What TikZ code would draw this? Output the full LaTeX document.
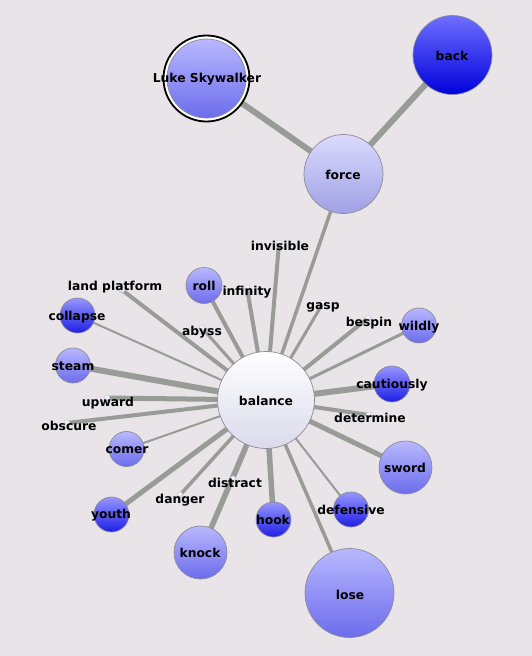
\documentclass[tikz,border=0pt]{standalone}
\usepackage{fontspec}
\setmainfont{DejaVu Sans}
\pgfdeclarelayer{bglayer}
\pgfdeclarelayer{edgelayer}
\pgfsetlayers{bglayer,edgelayer,main}
\definecolor{bgc}{RGB}{232,228,232}
\definecolor{edgec}{RGB}{152,155,150}
\definecolor{rimc}{RGB}{140,140,150}
\tikzset{
  bub/.style={circle, inner sep=0pt, minimum size=#1, draw=rimc, line width=0.7pt, shading=axis, shading angle=0},
  pale/.style={top color=white, bottom color={rgb,255:red,218;green,218;blue,236}},
  lilac/.style={top color={rgb,255:red,218;green,218;blue,255}, bottom color={rgb,255:red,160;green,160;blue,228}},
  mid/.style={top color={rgb,255:red,184;green,184;blue,255}, bottom color={rgb,255:red,108;green,108;blue,236}},
  deep/.style={top color={rgb,255:red,150;green,150;blue,255}, bottom color={rgb,255:red,30;green,30;blue,230}},
  navy/.style={top color={rgb,255:red,110;green,110;blue,255}, bottom color={rgb,255:red,0;green,0;blue,220}},
  tiny/.style={circle, inner sep=0pt, minimum size=6pt, draw=rimc!60, line width=0.4pt, top color=white, bottom color={rgb,255:red,200;green,200;blue,240}},
  lbl/.style={inner sep=0pt, font=\bfseries\fontsize{12.3}{14}\selectfont},
  ed/.style={draw=edgec, line width=#1}
}
\begin{document}
\begin{tikzpicture}[x=1pt,y=-1pt]
\begin{pgfonlayer}{bglayer}
\fill[bgc] (0,0) rectangle (532,656);
\end{pgfonlayer}
\useasboundingbox (0,0) rectangle (532,656);
% big nodes
\node[circle, minimum size=86pt, inner sep=0pt, draw=black, line width=1.8pt, fill=white] (lukering) at (206.5,78.5) {};
\node[bub=79pt, mid] (luke) at (206.5,78.5) {};
\node[bub=79pt, navy] (back) at (452.5,55) {};
\node[bub=79pt, lilac] (force) at (343.5,174) {};
\node[bub=97pt, pale] (balance) at (266,400) {};
\node[bub=89pt, mid] (lose) at (349.5,593) {};
\node[bub=53pt, mid] (sword) at (405.5,467.5) {};
\node[bub=53pt, mid] (knock) at (200.5,552.5) {};
\node[bub=35pt, deep] (hook) at (273.5,519.5) {};
\node[bub=35pt, deep] (defensive) at (351,509.5) {};
\node[bub=35pt, deep] (youth) at (111.5,514.5) {};
\node[bub=35pt, mid] (comer) at (126.5,449) {};
\node[bub=35pt, mid] (steam) at (73,365.5) {};
\node[bub=35pt, deep] (collapse) at (77.5,315.5) {};
\node[bub=36pt, mid] (roll) at (204,285.5) {};
\node[bub=35pt, mid] (wildly) at (419,325.5) {};
\node[bub=36pt, deep] (cautiously) at (392,384) {};
% tiny nodes
\node[tiny] (invisible) at (279,243) {};
\node[tiny] (infinity) at (247,288) {};
\node[tiny] (landplatform) at (122,290) {};
\node[tiny] (abyss) at (202,328) {};
\node[tiny] (gasp) at (323,303) {};
\node[tiny] (bespin) at (368,318) {};
\node[tiny] (upward) at (107,398) {};
\node[tiny] (obscure) at (67,423) {};
\node[tiny] (determine) at (369,415) {};
\node[tiny] (danger) at (180,495) {};
\node[tiny] (distract) at (233,479) {};
% edges
\begin{pgfonlayer}{edgelayer}
\draw[ed=6pt] (force.center) -- (luke.center);
\draw[ed=6pt] (force.center) -- (back.center);
\draw[ed=3.5pt] (force.center) -- (balance.center);
\draw[ed=4pt] (balance.center) -- (invisible.center);
\draw[ed=4pt] (balance.center) -- (infinity.center);
\draw[ed=4pt] (balance.center) -- (roll.center);
\draw[ed=3pt] (balance.center) -- (abyss.center);
\draw[ed=4pt] (balance.center) -- (landplatform.center);
\draw[ed=2pt] (balance.center) -- (collapse.center);
\draw[ed=6pt] (balance.center) -- (steam.center);
\draw[ed=5pt] (balance.center) -- (upward.center);
\draw[ed=4pt] (balance.center) -- (obscure.center);
\draw[ed=2pt] (balance.center) -- (comer.center);
\draw[ed=5pt] (balance.center) -- (youth.center);
\draw[ed=3.5pt] (balance.center) -- (danger.center);
\draw[ed=5.5pt] (balance.center) -- (knock.center);
\draw[ed=4pt] (balance.center) -- (distract.center);
\draw[ed=5.5pt] (balance.center) -- (hook.center);
\draw[ed=3.5pt] (balance.center) -- (lose.center);
\draw[ed=2pt] (balance.center) -- (defensive.center);
\draw[ed=5pt] (balance.center) -- (sword.center);
\draw[ed=4pt] (balance.center) -- (determine.center);
\draw[ed=6pt] (balance.center) -- (cautiously.center);
\draw[ed=3pt] (balance.center) -- (wildly.center);
\draw[ed=4pt] (balance.center) -- (bespin.center);
\draw[ed=3pt] (balance.center) -- (gasp.center);
\end{pgfonlayer}
% labels
\node[lbl] (t-luke) at (207,79) {Luke Skywalker};
\node[lbl] (t-back) at (452,56) {back};
\node[lbl] (t-force) at (343,175) {force};
\node[lbl] (t-balance) at (266,401) {balance};
\node[lbl] (t-lose) at (350,595) {lose};
\node[lbl] (t-sword) at (405,468) {sword};
\node[lbl] (t-knock) at (200,553) {knock};
\node[lbl] (t-hook) at (273,520) {hook};
\node[lbl] (t-defensive) at (351,510) {defensive};
\node[lbl] (t-youth) at (111,515) {youth};
\node[lbl] (t-comer) at (127,450) {comer};
\node[lbl] (t-steam) at (73,366) {steam};
\node[lbl] (t-collapse) at (77,317) {collapse};
\node[lbl] (t-roll) at (204,286) {roll};
\node[lbl] (t-wildly) at (419,327) {wildly};
\node[lbl] (t-cautiously) at (392,385) {cautiously};
\node[lbl] (t-invisible) at (280,246) {invisible};
\node[lbl] (t-infinity) at (247,292) {infinity};
\node[lbl] (t-land) at (115,287) {land platform};
\node[lbl] (t-abyss) at (202,332) {abyss};
\node[lbl] (t-gasp) at (323,307) {gasp};
\node[lbl] (t-bespin) at (369,323) {bespin};
\node[lbl] (t-upward) at (108,403) {upward};
\node[lbl] (t-obscure) at (69,426) {obscure};
\node[lbl] (t-determine) at (370,418) {determine};
\node[lbl] (t-danger) at (180,500) {danger};
\node[lbl] (t-distract) at (235,483) {distract};
\end{tikzpicture}
\end{document}
